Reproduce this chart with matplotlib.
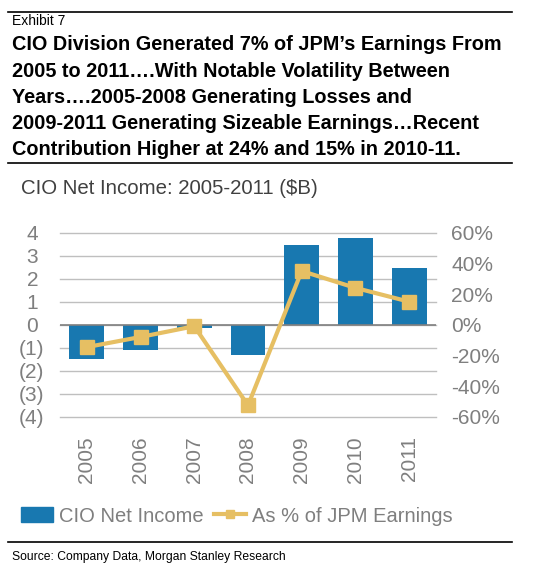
import numpy as np
import matplotlib.pyplot as plt
from matplotlib.lines import Line2D
from matplotlib.patches import Patch

plt.rcParams['font.family'] = ['Liberation Sans', 'DejaVu Sans']

years = ["2005", "2006", "2007", "2008", "2009", "2010", "2011"]
net_income = [-1.5, -1.12, -0.15, -1.33, 3.45, 3.75, 2.45]      # $B
pct_jpm = [-14.6, -8.0, -1.0, -52.6, 35.0, 24.0, 15.0]           # % of JPM earnings

left_ticks = [4, 3, 2, 1, 0, -1, -2, -3, -4]
right_ticks = [60, 40, 20, 0, -20, -40, -60]

bar_col = "#1878B0"
line_col = "#E6BF63"
tick_col = "#7F7F7F"

fig = plt.figure(figsize=(5.58, 5.72), dpi=100)
W, H = 558.0, 572.0

ax = fig.add_axes([60/W, 1-416.7/H, 376/W, (416.7-232.7)/H])
x = np.arange(len(years))
ax.bar(x, net_income, width=0.65, color=bar_col, zorder=2)
ax.set_xlim(-0.5, len(years)-0.5)
ax.set_ylim(-4, 4)
ax.set_yticks(left_ticks)
ax.set_yticklabels([str(v)+" " if v >= 0 else "("+str(-v)+")" for v in left_ticks])
ax.set_xticks(x)
ax.set_xticklabels(years, rotation=90)
ax.grid(axis='y', color="#BFBFBF", lw=1, zorder=0)
for gl in ax.get_ygridlines():
    gl.set_clip_on(False)
ax.axhline(0, color="#808080", lw=1.2, zorder=3)
for s in ax.spines.values():
    s.set_visible(False)
ax.tick_params(axis='both', length=0, labelsize=15, labelcolor=tick_col)
ax.tick_params(axis='y', pad=11.5)
ax.tick_params(axis='x', pad=14)

ax2 = ax.twinx()
ax2.plot(x, pct_jpm, color=line_col, lw=3, marker='s', ms=10, zorder=4)
ax2.set_ylim(-60, 60)
ax2.set_yticks(right_ticks)
ax2.set_yticklabels([f"{v}%" for v in right_ticks])
for s in ax2.spines.values():
    s.set_visible(False)
ax2.tick_params(axis='y', length=0, labelsize=15, labelcolor=tick_col, pad=11)

# header / footer text
fig.text(12/W, 1-21/H, "Exhibit 7", fontsize=10, va='center', ha='left')
title = ("CIO Division Generated 7% of JPM\u2019s Earnings From\n"
         "2005 to 2011\u2026.With Notable Volatility Between\n"
         "Years\u2026.2005-2008 Generating Losses and\n"
         "2009-2011 Generating Sizeable Earnings\u2026Recent\n"
         "Contribution Higher at 24% and 15% in 2010-11.")
fig.text(12/W, 1-35.5/H, title, fontsize=14.3, fontweight='bold', va='top', ha='left',
         linespacing=1.47)
fig.text(21/W, 1-188/H, "CIO Net Income: 2005-2011 ($B)", fontsize=14.7, color="#404040",
         va='center', ha='left')
fig.text(12/W, 1-557/H, "Source: Company Data, Morgan Stanley Research", fontsize=8.7,
         va='center', ha='left')

for yy in [12.3, 162.7, 542.3]:
    fig.add_artist(Line2D([8/W, 512/W], [1-yy/H, 1-yy/H], color="black", lw=1.2))

handles = [Patch(color=bar_col),
           Line2D([], [], color=line_col, lw=3, marker='s', ms=6)]
leg = fig.legend(handles, ["CIO Net Income", "As % of JPM Earnings"], loc='center left',
                 bbox_to_anchor=(21/W, 1-516/H), ncol=2, frameon=False, fontsize=14.5,
                 handlelength=1.6, handleheight=0.7, handletextpad=0.3, columnspacing=0.5,
                 borderpad=0, borderaxespad=0)
for t in leg.get_texts():
    t.set_color(tick_col)

fig.savefig("out.png", dpi=100)
